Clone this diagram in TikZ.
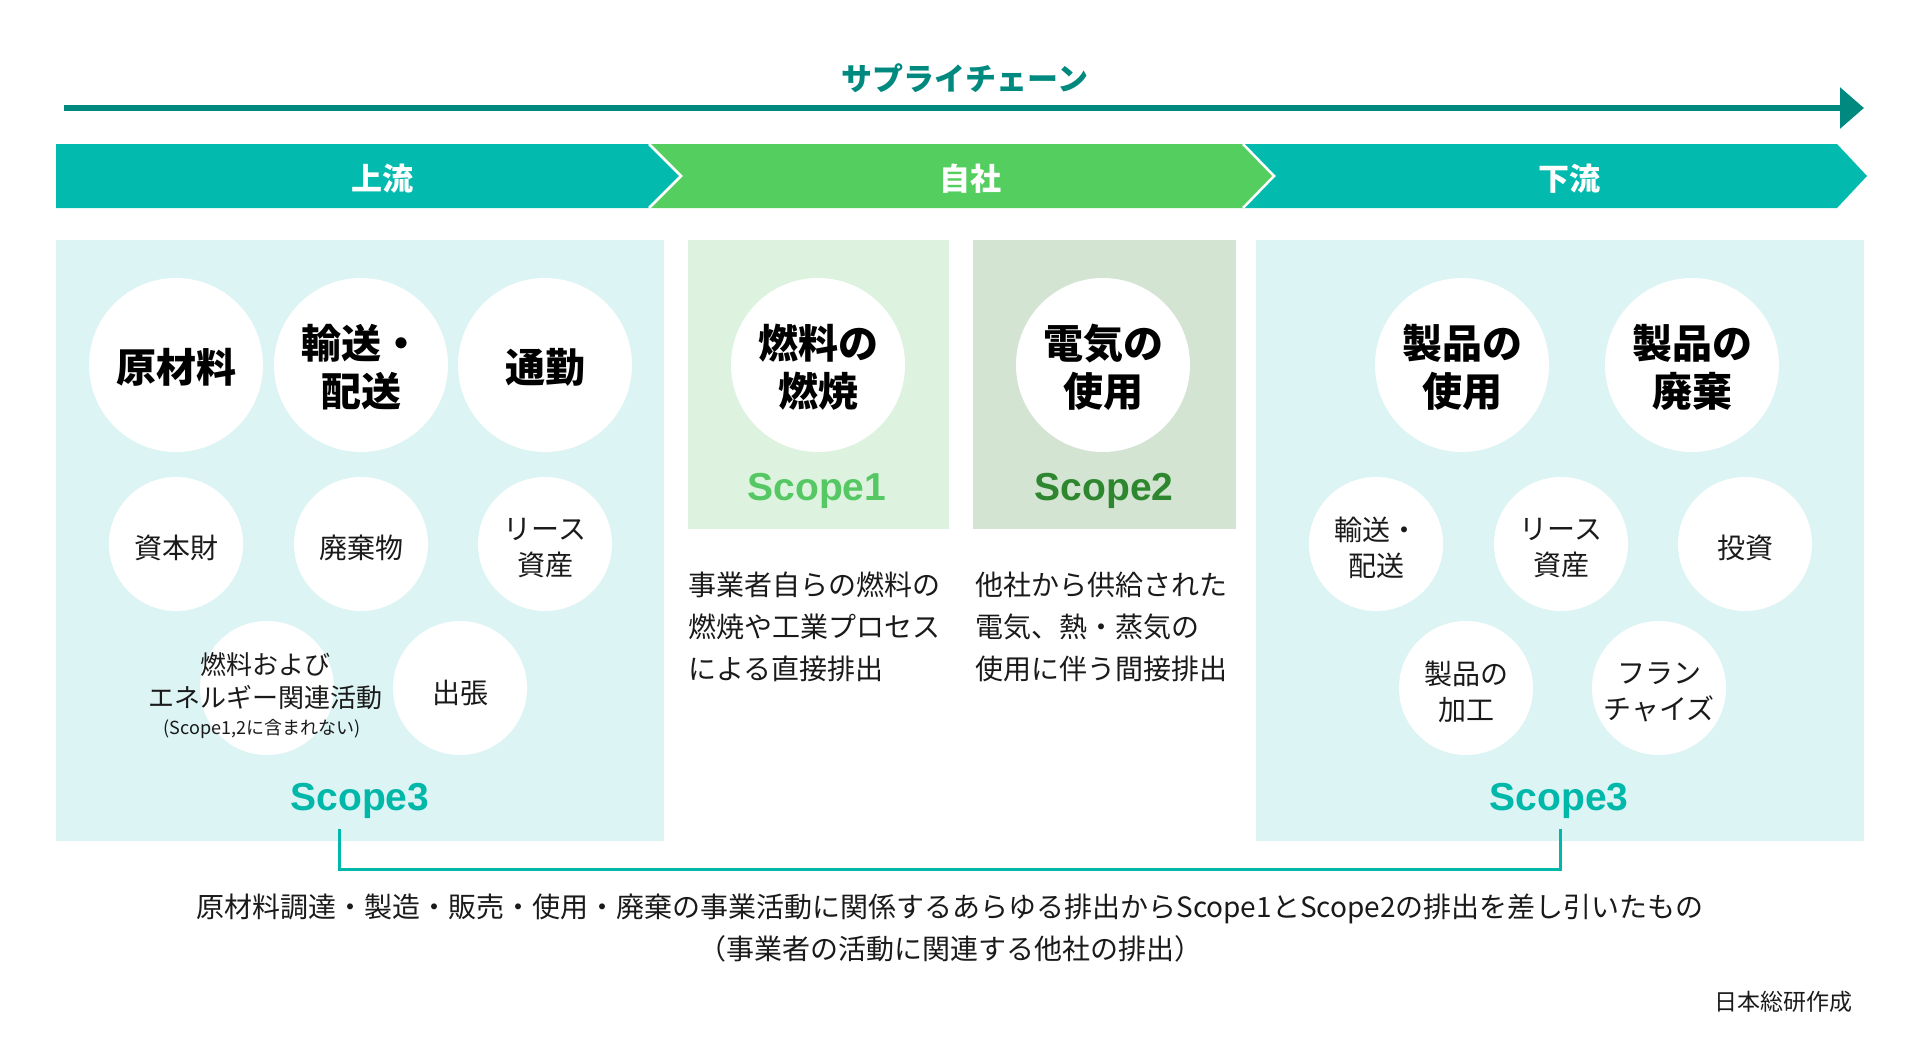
\documentclass[tikz,border=0pt]{standalone}
\usepackage{fontspec}
\setmainfont{Noto Sans CJK JP}
\newfontfamily\scfont{Liberation Sans}
\usetikzlibrary{arrows.meta}
\definecolor{bandteal}{RGB}{3,186,174}
\definecolor{bandgreen}{RGB}{85,206,96}
\definecolor{darkteal}{RGB}{0,137,126}
\definecolor{panelcyan}{RGB}{220,244,243}
\definecolor{panelgone}{RGB}{221,243,223}
\definecolor{panelgtwo}{RGB}{211,228,211}
\definecolor{sconecol}{RGB}{85,200,100}
\definecolor{sctwocol}{RGB}{46,135,46}
\definecolor{scthreecol}{RGB}{0,184,169}
\definecolor{txtcol}{RGB}{26,26,26}
\begin{document}
\begin{tikzpicture}[x=1pt,y=-1pt,
  bigc/.style={circle,fill=white,minimum size=174pt,inner sep=0pt},
  smallc/.style={circle,fill=white,minimum size=134pt,inner sep=0pt},
  bigt/.style={font=\fontsize{40}{48}\selectfont\bfseries,align=center,inner sep=0pt,text=black},
  smallt/.style={font=\fontsize{28}{36}\selectfont,align=center,inner sep=0pt,text=txtcol},
  scopet/.style={font=\scfont\fontsize{39}{44}\selectfont\bfseries,inner sep=0pt},
  bandt/.style={font=\fontsize{31}{36}\selectfont\bfseries,text=white,inner sep=0pt},
  desct/.style={font=\fontsize{28}{42}\selectfont,align=left,inner sep=0pt,text=txtcol,anchor=north west},
  bottomt/.style={font=\fontsize{28}{34}\selectfont,inner sep=0pt,text=txtcol},
]
\useasboundingbox (0,0) rectangle (1920,1060);

% title and arrow
\node[font=\fontsize{31}{36}\selectfont\bfseries,text=darkteal,inner sep=0pt] (title) at (965,78) {サプライチェーン};
\coordinate (arrs) at (64,108);
\coordinate (arre) at (1864,108);
\draw[darkteal,line width=6pt,-{Triangle[length=24pt,width=40pt]}] (arrs) -- (arre);

% chevron band
\fill[bandteal] (56,144) -- (649,144) -- (681,176) -- (649,208) -- (56,208) -- cycle;
\fill[bandgreen] (649,144) -- (1243,144) -- (1274,176) -- (1243,208) -- (649,208) -- (681,176) -- cycle;
\fill[bandteal] (1243,144) -- (1837,144) -- (1867,176) -- (1837,208) -- (1243,208) -- (1274,176) -- cycle;
\draw[white,line width=2.5pt] (649,144) -- (681,176) -- (649,208);
\draw[white,line width=2.5pt] (1243,144) -- (1274,176) -- (1243,208);
\node[bandt] (up) at (382,179) {上流};
\node[bandt] (own) at (970,179) {自社};
\node[bandt] (down) at (1569,179) {下流};

% panels
\fill[panelcyan] (56,240) rectangle (664,841);
\fill[panelgone] (688,240) rectangle (949,529);
\fill[panelgtwo] (973,240) rectangle (1236,529);
\fill[panelcyan] (1256,240) rectangle (1864,841);

% upstream circles
\node[bigc] (c1) at (176,365) {};
\node[bigt] (t1) at ([yshift=-2pt]c1.center) {原材料};
\node[bigc] (c2) at (361,365) {};
\node[bigt] (t2) at ([yshift=-2pt]c2.center) {輸送・\\配送};
\node[bigc] (c3) at (545,365) {};
\node[bigt] (t3) at ([yshift=-2pt]c3.center) {通勤};
\node[smallc] (c4) at (176,544) {};
\node[smallt] (t4) at ([yshift=-4pt]c4.center) {資本財};
\node[smallc] (c5) at (361,544) {};
\node[smallt] (t5) at ([yshift=-4pt]c5.center) {廃棄物};
\node[smallc] (c6) at (545,544) {};
\node[smallt] (t6) at ([yshift=-4pt]c6.center) {リース\\資産};
\node[smallc] (c7) at (267,688) {};
\node[smallt,font=\fontsize{26}{33}\selectfont] (t7) at (265,681) {燃料および\\エネルギー関連活動};
\node[font=\fontsize{18}{22}\selectfont,inner sep=0pt,text=txtcol] (t7b) at (262,729) {(Scope1,2に含まれない)};
\node[smallc] (c8) at (460,688) {};
\node[smallt] (t8) at ([yshift=-5pt]c8.center) {出張};
\node[scopet,text=scthreecol] (s3l) at (360,801) {Scope3};

% own company
\node[bigc] (c9) at (818,365) {};
\node[bigt] (t9) at ([yshift=-2pt]c9.center) {燃料の\\燃焼};
\node[scopet,text=sconecol] (s1) at (817,491) {Scope1};
\node[bigc] (c10) at (1103,365) {};
\node[bigt] (t10) at ([yshift=-2pt]c10.center) {電気の\\使用};
\node[scopet,text=sctwocol] (s2) at (1104,491) {Scope2};
\node[desct] (d1) at (688,572) {事業者自らの燃料の\\燃焼や工業プロセス\\による直接排出};
\node[desct] (d2) at (975,572) {他社から供給された\\電気、熱・蒸気の\\使用に伴う間接排出};

% downstream circles
\node[bigc] (c11) at (1462,365) {};
\node[bigt] (t11) at ([yshift=-2pt]c11.center) {製品の\\使用};
\node[bigc] (c12) at (1692,365) {};
\node[bigt] (t12) at ([yshift=-2pt]c12.center) {製品の\\廃棄};
\node[smallc] (c13) at (1376,544) {};
\node[smallt] (t13) at ([yshift=-4pt]c13.center) {輸送・\\配送};
\node[smallc] (c14) at (1561,544) {};
\node[smallt] (t14) at ([yshift=-4pt]c14.center) {リース\\資産};
\node[smallc] (c15) at (1745,544) {};
\node[smallt] (t15) at ([yshift=-4pt]c15.center) {投資};
\node[smallc] (c16) at (1466,688) {};
\node[smallt] (t16) at ([yshift=-4pt]c16.center) {製品の\\加工};
\node[smallc] (c17) at (1659,688) {};
\node[smallt] (t17) at ([yshift=-4pt]c17.center) {フラン\\チャイズ};
\node[scopet,text=scthreecol] (s3r) at (1559,801) {Scope3};

% bracket
\coordinate (bl) at (339,829);
\coordinate (br) at (1560,829);
\draw[scthreecol,line width=3pt] (bl) -- ++(0,40) -| (br);

% bottom texts
\node[bottomt] (b1) at (950,909) {原材料調達・製造・販売・使用・廃棄の事業活動に関係するあらゆる排出からScope1とScope2の排出を差し引いたもの};
\node[bottomt] (b2) at (950,949) {（事業者の活動に関連する他社の排出）};
\node[font=\fontsize{23}{28}\selectfont,inner sep=0pt,text=txtcol] (credit) at (1783,1002) {日本総研作成};
\end{tikzpicture}
\end{document}
